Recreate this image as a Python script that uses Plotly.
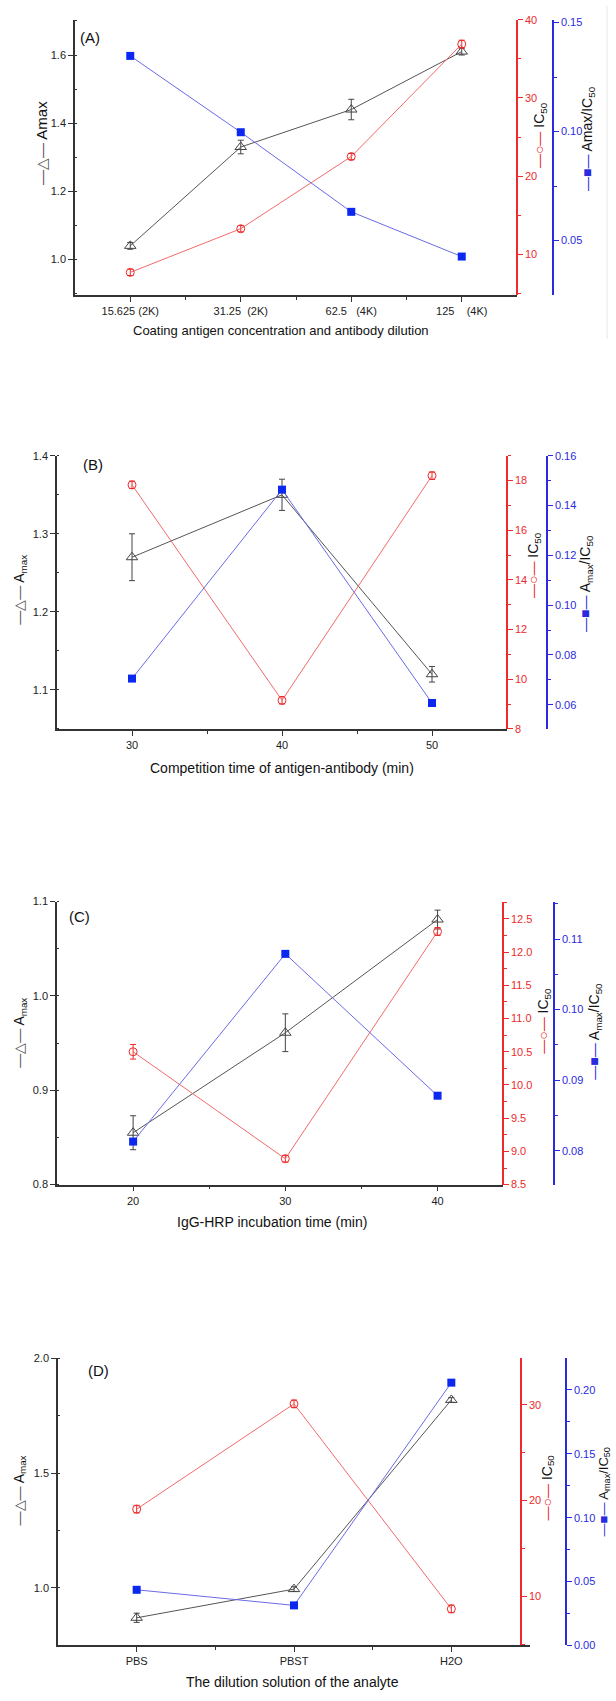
import plotly.graph_objects as go

# ---------------- data ----------------
cats_A = ["15.625 (2K)", "31.25\u00a0\u00a0(2K)", "62.5\u00a0\u00a0\u00a0(4K)", "125\u00a0\u00a0\u00a0\u00a0(4K)"]
amax_A = [1.04, 1.33, 1.44, 1.61]
amax_A_err = [0.01, 0.02, 0.03, 0.01]
ic50_A = [7.67, 13.26, 22.5, 36.9]
ic50_A_err = [0.4, 0.4, 0.4, 0.5]
ratio_A = [0.1347, 0.0997, 0.0632, 0.0427]

x_B = [30, 40, 50]
amax_B = [1.27, 1.35, 1.12]
amax_B_err = [0.03, 0.02, 0.01]
ic50_B = [17.83, 9.15, 18.2]
ic50_B_err = [0.15, 0.15, 0.15]
ratio_B = [0.0705, 0.1464, 0.0607]

x_C = [20, 30, 40]
amax_C = [0.855, 0.961, 1.081]
amax_C_err = [0.018, 0.02, 0.01]
ic50_C = [10.5, 8.89, 12.31]
ic50_C_err = [0.11, 0.05, 0.06]
ratio_C = [0.0813, 0.1079, 0.0878]

cats_D = ["PBS", "PBST", "H2O"]
amax_D = [0.87, 0.995, 1.819]
amax_D_err = [0.02, 0.01, 0.01]
ic50_D = [19.1, 30.1, 8.68]
ic50_D_err = [0.4, 0.4, 0.4]
ratio_D = [0.0435, 0.0313, 0.2057]

# ---------------- style ----------------
W, H = 616, 1701
FONT = "Liberation Sans, Arial, sans-serif"
BLACK = "#333333"
RED = "#ee2a2a"
BLUE = "#2a2ae0"
RED_LINE = "#f26a6a"
BLUE_LINE = "#6a6ae6"
SQ_BLUE = "#0a28f0"


def fx(px):
    return px / W


def fy(py):
    return 1 - py / H


fig = go.Figure()
annotations = []
layout = {}


def panel(i, xvals, amax, amax_err, ic50, ic50_err, ratio,
          left, right_x, red_x, blue_x, top, bottom,
          xrange, xticks, xticktext, xminor,
          lrange, ldtick, lminor, lfmt,
          rrange, rdtick, rminor, rfmt,
          brange, bdtick, bminor, bfmt):
    xa = "x" if i == 0 else f"x{i+1}"
    ya_l = 3 * i + 1
    ya_r = 3 * i + 2
    ya_b = 3 * i + 3
    yname = lambda n: "y" if n == 1 else f"y{n}"
    lkey = lambda n: "yaxis" if n == 1 else f"yaxis{n}"
    xkey = "xaxis" if i == 0 else f"xaxis{i+1}"
    dom_y = [fy(bottom), fy(top)]

    layout[xkey] = dict(
        domain=[fx(left), fx(right_x)], anchor=yname(ya_l), range=xrange,
        showline=True, linecolor=BLACK, linewidth=1.6, showgrid=False, zeroline=False,
        ticks="outside", ticklen=5, tickwidth=1.2, tickcolor=BLACK,
        tickmode="array", tickvals=xticks, ticktext=xticktext,
        tickfont=dict(family=FONT, size=11, color="#222"),
        minor=dict(tickmode="array", tickvals=xminor, ticks="outside", ticklen=3,
                   tickcolor=BLACK, tickwidth=1),
    )
    layout[lkey(ya_l)] = dict(
        domain=dom_y, anchor=xa, range=lrange,
        showline=True, linecolor=BLACK, linewidth=1.6, showgrid=False, zeroline=False,
        ticks="outside", ticklen=5, tickwidth=1.2, tickcolor=BLACK,
        dtick=ldtick, tick0=0, tickformat=lfmt,
        tickfont=dict(family=FONT, size=11, color="#222"),
        minor=dict(dtick=lminor, ticks="inside", ticklen=2, tickcolor=BLACK, tickwidth=1),
    )
    layout[lkey(ya_r)] = dict(
        domain=dom_y, overlaying=yname(ya_l), anchor="free", position=fx(red_x),
        side="right", range=rrange,
        showline=True, linecolor=RED, linewidth=1.5, showgrid=False, zeroline=False,
        ticks="outside", ticklen=5, tickwidth=1.2, tickcolor=RED,
        dtick=rdtick, tick0=0, tickformat=rfmt,
        tickfont=dict(family=FONT, size=11, color=RED),
        minor=dict(dtick=rminor, ticks="outside", ticklen=3, tickcolor=RED, tickwidth=1),
    )
    layout[lkey(ya_b)] = dict(
        domain=dom_y, overlaying=yname(ya_l), anchor="free", position=fx(blue_x),
        side="right", range=brange,
        showline=True, linecolor=BLUE, linewidth=1.5, showgrid=False, zeroline=False,
        ticks="outside", ticklen=5, tickwidth=1.2, tickcolor=BLUE,
        dtick=bdtick, tick0=0, tickformat=bfmt,
        tickfont=dict(family=FONT, size=11, color=BLUE),
        minor=dict(dtick=bminor, ticks="outside", ticklen=3, tickcolor=BLUE, tickwidth=1),
    )

    fig.add_trace(go.Scatter(
        x=xvals, y=amax, xaxis=xa, yaxis=yname(ya_l), mode="lines+markers",
        line=dict(color="#555555", width=1),
        marker=dict(symbol="triangle-up-open", size=10, color="#444444", line=dict(width=1)),
        error_y=dict(type="data", array=amax_err, color="#444444", thickness=1, width=3),
        showlegend=False, cliponaxis=False,
    ))
    fig.add_trace(go.Scatter(
        x=xvals, y=ic50, xaxis=xa, yaxis=yname(ya_r), mode="lines+markers",
        line=dict(color=RED_LINE, width=1),
        marker=dict(symbol="circle-open", size=8, color=RED, line=dict(width=1)),
        error_y=dict(type="data", array=ic50_err, color=RED, thickness=1, width=3),
        showlegend=False, cliponaxis=False,
    ))
    fig.add_trace(go.Scatter(
        x=xvals, y=ratio, xaxis=xa, yaxis=yname(ya_b), mode="lines+markers",
        line=dict(color=BLUE_LINE, width=1),
        marker=dict(symbol="square", size=8, color=SQ_BLUE),
        showlegend=False, cliponaxis=False,
    ))


# Panel A
panel(0, list(range(len(cats_A))), amax_A, amax_A_err, ic50_A, ic50_A_err, ratio_A,
      left=75, right_x=517, red_x=517, blue_x=553, top=14, bottom=291,
      xrange=[-0.5, 3.5], xticks=list(range(len(cats_A))), xticktext=cats_A,
      xminor=[0.5, 1.5, 2.5],
      lrange=[0.896, 1.703], ldtick=0.2, lminor=0.1, lfmt=".1f",
      rrange=[4.78, 40], rdtick=10, rminor=5, rfmt="d",
      brange=[0.0251, 0.1512], bdtick=0.05, bminor=0.025, bfmt=".2f")

# Panel B
panel(1, x_B, amax_B, amax_B_err, ic50_B, ic50_B_err, ratio_B,
      left=57, right_x=507, red_x=507, blue_x=547, top=453, bottom=728,
      xrange=[25, 55], xticks=x_B, xticktext=[str(v) for v in x_B],
      xminor=[35, 45],
      lrange=[1.05, 1.4], ldtick=0.1, lminor=0.05, lfmt=".1f",
      rrange=[8, 19], rdtick=2, rminor=1, rfmt="d",
      brange=[0.0503, 0.16], bdtick=0.02, bminor=0.01, bfmt=".2f")

# Panel C
panel(2, x_C, amax_C, amax_C_err, ic50_C, ic50_C_err, ratio_C,
      left=57, right_x=503, red_x=503, blue_x=554, top=902, bottom=1187,
      xrange=[15, 44.3], xticks=x_C, xticktext=[str(v) for v in x_C],
      xminor=[25, 35],
      lrange=[0.8, 1.1], ldtick=0.1, lminor=0.05, lfmt=".1f",
      rrange=[8.5, 12.76], rdtick=0.5, rminor=0.25, rfmt=".1f",
      brange=[0.0752, 0.1153], bdtick=0.01, bminor=0.005, bfmt=".2f")

# Panel D
panel(3, list(range(len(cats_D))), amax_D, amax_D_err, ic50_D, ic50_D_err, ratio_D,
      left=58, right_x=530, red_x=521, blue_x=566, top=1362, bottom=1651,
      xrange=[-0.5, 2.5], xticks=list(range(len(cats_D))), xticktext=cats_D,
      xminor=[0.5, 1.5],
      lrange=[0.75, 2.0], ldtick=0.5, lminor=0.25, lfmt=".1f",
      rrange=[4.87, 34.85], rdtick=10, rminor=5, rfmt="d",
      brange=[0.0, 0.2247], bdtick=0.05, bminor=0.025, bfmt=".2f")


def ann(text, x, y, size=14, angle=0, color="#111", xanchor="center"):
    annotations.append(dict(
        text=text, x=fx(x), y=fy(y), xref="paper", yref="paper",
        xanchor=xanchor, yanchor="middle", showarrow=False, textangle=angle,
        font=dict(family=FONT, size=size, color=color),
    ))


red_sym = f'<span style="color:{RED}">—○—</span>'
blue_sym = f'<span style="color:{BLUE}">—■—</span>'
blk_sym = '<span style="color:#555">—△—</span>'

# panel labels
ann("(A)", 90, 32, 15)
ann("(B)", 93, 462, 15)
ann("(C)", 80, 917, 15)
ann("(D)", 98, 1374, 15)

# y titles
ann(f"{blk_sym} Amax", 41, 138, 15, -90)
ann(f"{red_sym} IC<sub>50</sub>", 540, 130, 14, -90)
ann(f"{blue_sym} Amax/IC<sub>50</sub>", 588, 134, 14, -90)

for (yc_l, yc_r, yc_b, xl, xr, xb) in [
    (588, 563, 582, 20, 534, 586),
    (1034, 1022, 1033, 20, 544, 595),
]:
    ann(f"{blk_sym} A<sub>max</sub>", xl, yc_l, 14, -90)
    ann(f"{red_sym} IC<sub>50</sub>", xr, yc_r, 14, -90)
    ann(f"{blue_sym} A<sub>max</sub>/IC<sub>50</sub>", xb, yc_b, 14, -90)

ann(f"{blk_sym} A<sub>max</sub>", 20, 1495, 14, -90)
ann(f"{red_sym} IC<sub>50</sub>", 548, 1492, 14, -90)
ann(f"{blue_sym} A<sub>max</sub>/IC<sub>50</sub>", 604, 1497, 13, -90)

# x titles
ann("Coating antigen concentration and antibody dilution", 281, 327, 13)
ann("Competition time of antigen-antibody (min)", 282, 767, 14)
ann("IgG-HRP incubation time (min)", 272, 1225, 14)
ann("The dilution solution of the analyte", 292, 1688, 14)

fig.update_layout(
    width=W, height=H, margin=dict(l=0, r=0, t=0, b=0),
    paper_bgcolor="white", plot_bgcolor="white",
    showlegend=False, annotations=annotations,
    font=dict(family=FONT),
    shapes=[dict(type="line", xref="paper", yref="paper",
                 x0=fx(607), x1=fx(607), y0=fy(0), y1=fy(335),
                 line=dict(color="#e6e6e6", width=1))],
    **layout,
)

fig.write_html(
    "out.html",
    config={"displayModeBar": False},
    post_script="document.body.style.margin='0';document.body.style.padding='0';"
                "document.body.style.overflow='hidden';"
                "document.documentElement.style.overflow='hidden';",
)
